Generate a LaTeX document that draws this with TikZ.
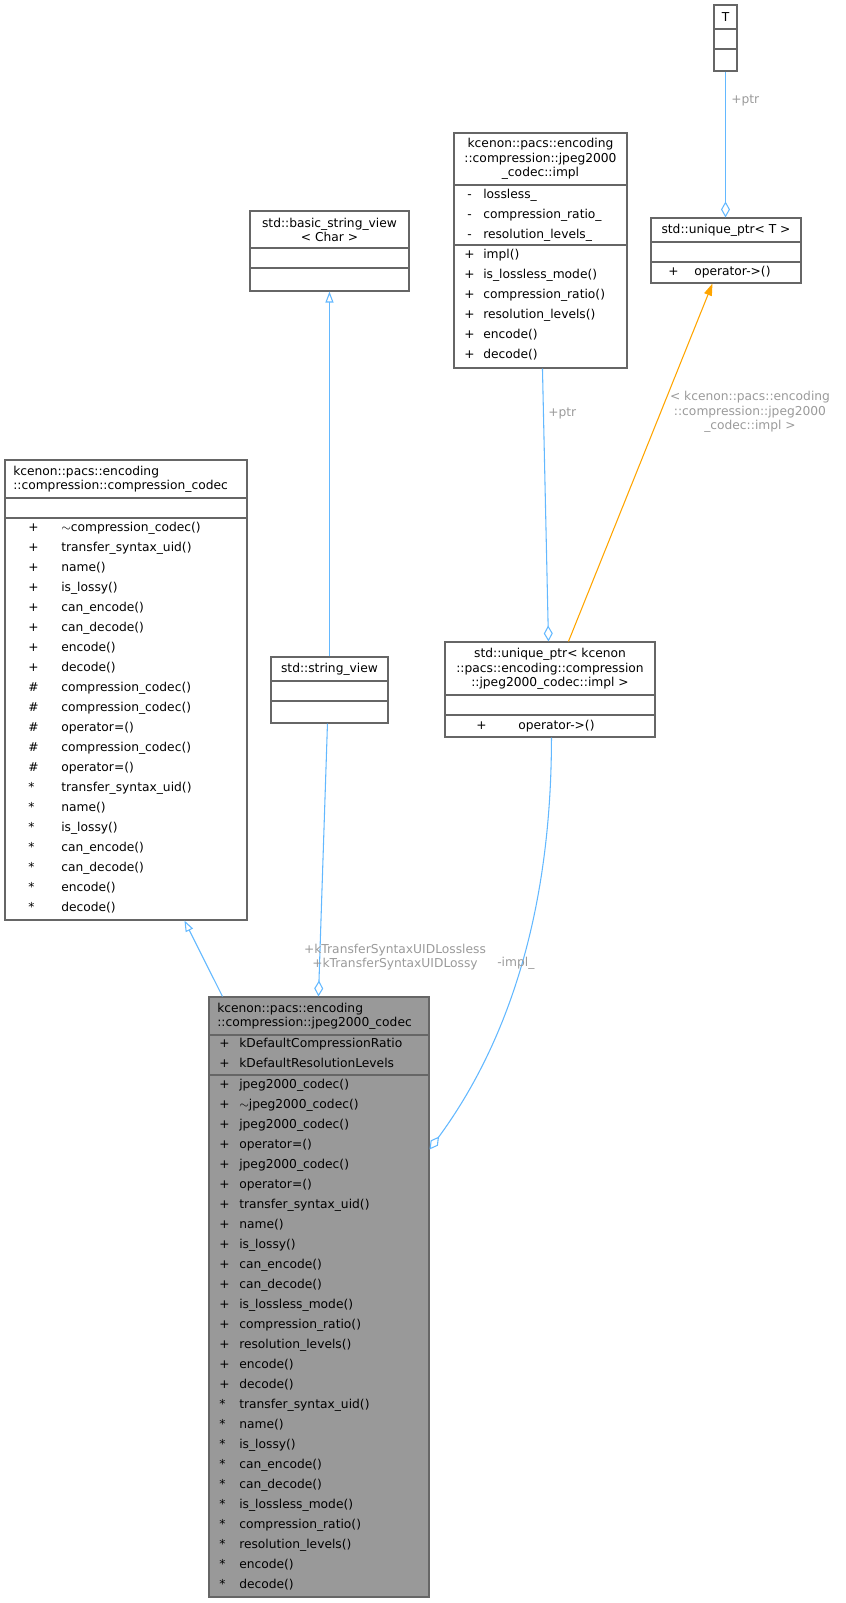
\documentclass[tikz,border=0pt]{standalone}
\usepackage{fontspec}
\setmainfont{DejaVu Sans}
\usetikzlibrary{arrows.meta,fit,calc}
\definecolor{edgeblue}{HTML}{63B8FF}
\definecolor{bord}{HTML}{666666}
\definecolor{mainfill}{HTML}{999999}
\definecolor{lbl}{HTML}{9A9A9A}
\definecolor{orng}{HTML}{FFA500}
\begin{document}
\begin{tikzpicture}[x=0.75pt,y=-0.75pt,
  every node/.style={font=\fontsize{9.2pt}{10.8pt}\selectfont, inner sep=0pt},
  cls/.style={draw=bord, line width=0.8pt, inner sep=0pt},
  sep/.style={draw=bord, line width=0.8pt},
  row/.style={anchor=west, text height=6.8pt, text depth=1.8pt},
  ttl/.style={align=center},
  lab/.style={text=lbl, align=center},
  blue/.style={draw=edgeblue, line width=0.8pt},
  inh/.style={blue, -{Triangle[open,length=11pt*0.75,width=8pt*0.75]}},
  agg/.style={blue, -{Diamond[open,length=16*0.75pt,width=9*0.75pt]}},
  tmpl/.style={draw=orng, line width=0.8pt, -{Triangle[length=12*0.75pt,width=8*0.75pt,fill=orng]}}
]
\useasboundingbox (0,0) rectangle (846,1603);

% ---------- T ----------
\coordinate (t1) at (714,5); \coordinate (t2) at (737,71);
\node[cls, fit=(t1)(t2)] (T) {};
\draw[sep] (714,29) -- (737,29); \draw[sep] (714,49) -- (737,49);
\node at (725.5,17) {T};

% ---------- unique_ptr<T> ----------
\coordinate (u1) at (651,218); \coordinate (u2) at (801,283);
\node[cls, fit=(u1)(u2)] (UT) {};
\draw[sep] (651,242) -- (801,242); \draw[sep] (651,262) -- (801,262);
\node at (726,230) {std::unique\_ptr< T >};
\node[row] at (668,272) {+}; \node[row] at (694,272) {operator->()};

% ---------- impl ----------
\coordinate (i1) at (454,133); \coordinate (i2) at (627,368);
\node[cls, fit=(i1)(i2)] (IMPL) {};
\draw[sep] (454,185) -- (627,185); \draw[sep] (454,245) -- (627,245);
\node[ttl] at (540.5,159) {kcenon::pacs::encoding\\::compression::jpeg2000\\\_codec::impl};
\foreach \n [count=\k from 0] in {lossless\_,compression\_ratio\_,resolution\_levels\_}
  {\node[row] at (467,195+20*\k) {-}; \node[row] at (483,195+20*\k) {\n};}
\foreach \n [count=\k from 0] in {impl(),is\_lossless\_mode(),compression\_ratio(),resolution\_levels(),encode(),decode()}
  {\node[row] at (464,255+20*\k) {+}; \node[row] at (483,255+20*\k) {\n};}

% ---------- basic_string_view ----------
\coordinate (b1) at (250,211); \coordinate (b2) at (409,291);
\node[cls, fit=(b1)(b2)] (BSV) {};
\draw[sep] (250,248) -- (409,248); \draw[sep] (250,268) -- (409,268);
\node[ttl] at (329.5,230) {std::basic\_string\_view\\< Char >};

% ---------- string_view ----------
\coordinate (s1) at (271,657); \coordinate (s2) at (388,723);
\node[cls, fit=(s1)(s2)] (SV) {};
\draw[sep] (271,681) -- (388,681); \draw[sep] (271,701) -- (388,701);
\node at (329.5,669) {std::string\_view};

% ---------- unique_ptr<impl> ----------
\coordinate (p1) at (445,642); \coordinate (p2) at (655,737);
\node[cls, fit=(p1)(p2)] (UP) {};
\draw[sep] (445,695) -- (655,695); \draw[sep] (445,715) -- (655,715);
\node[ttl] at (550,669) {std::unique\_ptr< kcenon\\::pacs::encoding::compression\\::jpeg2000\_codec::impl >};
\node[row] at (476,726) {+}; \node[row] at (518,726) {operator->()};

% ---------- compression_codec ----------
\coordinate (c1) at (5,460); \coordinate (c2) at (247,920);
\node[cls, fit=(c1)(c2)] (CC) {};
\draw[sep] (5,498) -- (247,498); \draw[sep] (5,518) -- (247,518);
\node[ttl, align=left, anchor=west] at (13,479) {kcenon::pacs::encoding\\::compression::compression\_codec};
\foreach \s/\n [count=\k from 0] in {+/$\sim$compression\_codec(),+/transfer\_syntax\_uid(),+/name(),+/is\_lossy(),+/can\_encode(),+/can\_decode(),+/encode(),+/decode(),\#/compression\_codec(),\#/compression\_codec(),\#/operator=(),\#/compression\_codec(),\#/operator=(),*/transfer\_syntax\_uid(),*/name(),*/is\_lossy(),*/can\_encode(),*/can\_decode(),*/encode(),*/decode()}
  {\node[row] at (28,528+20*\k) {\s}; \node[row] at (61,528+20*\k) {\n};}

% ---------- jpeg2000_codec (main) ----------
\coordinate (m1) at (209,997); \coordinate (m2) at (429,1597);
\node[cls, fill=mainfill, fit=(m1)(m2)] (MAIN) {};
\draw[sep] (209,1035) -- (429,1035); \draw[sep] (209,1075) -- (429,1075);
\node[ttl, align=left, anchor=west] at (217,1016) {kcenon::pacs::encoding\\::compression::jpeg2000\_codec};
\foreach \n [count=\k from 0] in {kDefaultCompressionRatio,kDefaultResolutionLevels}
  {\node[row] at (219,1044+20*\k) {+}; \node[row] at (239,1044+20*\k) {\n};}
\foreach \s/\n [count=\k from 0] in {+/jpeg2000\_codec(),+/$\sim$jpeg2000\_codec(),+/jpeg2000\_codec(),+/operator=(),+/jpeg2000\_codec(),+/operator=(),+/transfer\_syntax\_uid(),+/name(),+/is\_lossy(),+/can\_encode(),+/can\_decode(),+/is\_lossless\_mode(),+/compression\_ratio(),+/resolution\_levels(),+/encode(),+/decode(),*/transfer\_syntax\_uid(),*/name(),*/is\_lossy(),*/can\_encode(),*/can\_decode(),*/is\_lossless\_mode(),*/compression\_ratio(),*/resolution\_levels(),*/encode(),*/decode()}
  {\node[row] at (219,1085+20*\k) {\s}; \node[row] at (239,1085+20*\k) {\n};}

% ---------- edges ----------
\draw[inh] ($(MAIN.north west)+(14,0)$) -- ($(CC.south west)+(180,0)$);
\draw[inh] ($(SV.north west)+(59,0)$) -- ($(BSV.south west)+(80,0)$);
\draw[agg] ($(SV.south west)+(57,0)$) -- ($(MAIN.north west)+(110,0)$);
\draw[agg] ($(IMPL.south west)+(89,0)$) -- ($(UP.north west)+(104,0)$);
\draw[agg] (T.south) -- (UT.north -| T.south);
\draw[tmpl] ($(UP.north west)+(124,0)$) -- ($(UT.south west)+(62,0)$);
\draw[agg] ($(UP.south west)+(107,0)$) .. controls +(0,170) and (510,1040) .. ($(MAIN.north east)+(0,153)$);

% ---------- labels ----------
\node[lab, anchor=west] at (731,100) {+ptr};
\node[lab, anchor=west] at (548,413) {+ptr};
\node[lab] at (750,412) {< kcenon::pacs::encoding\\::compression::jpeg2000\\\_codec::impl >};
\node[lab] at (395,957) {+kTransferSyntaxUIDLossless\\+kTransferSyntaxUIDLossy};
\node[lab, anchor=west] at (497,963) {-impl\_};
\end{tikzpicture}
\end{document}
